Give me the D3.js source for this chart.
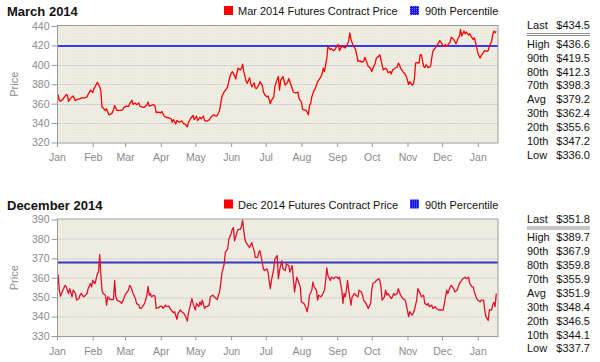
<html>
  <head>
    <meta charset="utf-8" />
    <title>Futures Contract Prices</title>
    <script src="https://d3js.org/d3.v7.min.js"></script>
    <style>
      body {
        margin: 0;
        background: #fff;
      }
      text {
        font-family: "Liberation Sans", Arial, sans-serif;
      }
    </style>
  </head>
  <body>
    <svg id="chart"></svg>
    <script>

      // Mar 2014 futures contract
      var marDates = [
        "2013-01-02","2013-01-03","2013-01-04","2013-01-06","2013-01-09","2013-01-10","2013-01-11","2013-01-13","2013-01-15","2013-01-17","2013-01-19","2013-01-21","2013-01-22","2013-01-25","2013-01-27","2013-01-28","2013-01-30",
        "2013-02-01","2013-02-02","2013-02-03","2013-02-05","2013-02-07","2013-02-08","2013-02-09","2013-02-10","2013-02-12","2013-02-13","2013-02-14","2013-02-15","2013-02-17","2013-02-18","2013-02-19","2013-02-20","2013-02-22","2013-02-25","2013-02-27","2013-02-28",
        "2013-03-02","2013-03-04","2013-03-05","2013-03-07","2013-03-08","2013-03-10","2013-03-11","2013-03-13","2013-03-14","2013-03-17","2013-03-18","2013-03-20","2013-03-21","2013-03-22","2013-03-24","2013-03-26","2013-03-27","2013-03-28","2013-03-30",
        "2013-04-01","2013-04-02","2013-04-04","2013-04-06","2013-04-07","2013-04-08","2013-04-10","2013-04-11","2013-04-12","2013-04-14","2013-04-15","2013-04-17","2013-04-19","2013-04-21","2013-04-22","2013-04-24","2013-04-25","2013-04-27","2013-04-29","2013-04-30",
        "2013-05-02","2013-05-03","2013-05-05","2013-05-06","2013-05-08","2013-05-09","2013-05-11","2013-05-13","2013-05-15","2013-05-17","2013-05-19","2013-05-20","2013-05-22","2013-05-23","2013-05-24","2013-05-26","2013-05-28","2013-05-29","2013-05-30","2013-05-31",
        "2013-06-01","2013-06-02","2013-06-04","2013-06-05","2013-06-06","2013-06-07","2013-06-09","2013-06-10","2013-06-11","2013-06-12","2013-06-14","2013-06-15","2013-06-17","2013-06-18","2013-06-19","2013-06-21","2013-06-22","2013-06-23","2013-06-25","2013-06-26","2013-06-28","2013-06-29","2013-06-30",
        "2013-07-02","2013-07-03","2013-07-05","2013-07-06","2013-07-08","2013-07-09","2013-07-11","2013-07-12","2013-07-13","2013-07-14","2013-07-16","2013-07-18","2013-07-20","2013-07-21","2013-07-23","2013-07-25","2013-07-27","2013-07-29","2013-07-30",
        "2013-08-01","2013-08-02","2013-08-05","2013-08-06","2013-08-07","2013-08-08","2013-08-09","2013-08-10","2013-08-12","2013-08-13","2013-08-15","2013-08-16","2013-08-18","2013-08-19","2013-08-20","2013-08-21","2013-08-23","2013-08-24","2013-08-26","2013-08-27","2013-08-29","2013-08-30",
        "2013-09-01","2013-09-02","2013-09-03","2013-09-05","2013-09-06","2013-09-08","2013-09-09","2013-09-11","2013-09-12","2013-09-13","2013-09-14","2013-09-15","2013-09-17","2013-09-18","2013-09-19","2013-09-21","2013-09-22","2013-09-24","2013-09-25","2013-09-27","2013-09-28","2013-09-30",
        "2013-10-01","2013-10-02","2013-10-04","2013-10-05","2013-10-07","2013-10-08","2013-10-10","2013-10-11","2013-10-13","2013-10-14","2013-10-15","2013-10-17","2013-10-18","2013-10-19","2013-10-20","2013-10-21","2013-10-23","2013-10-24","2013-10-25","2013-10-26","2013-10-28","2013-10-30","2013-10-31",
        "2013-11-02","2013-11-03","2013-11-04","2013-11-05","2013-11-06","2013-11-07","2013-11-08","2013-11-09","2013-11-11","2013-11-12","2013-11-13","2013-11-15","2013-11-16","2013-11-17","2013-11-18","2013-11-19","2013-11-21","2013-11-22","2013-11-23","2013-11-24","2013-11-25","2013-11-27","2013-11-28","2013-11-29",
        "2013-12-01","2013-12-02","2013-12-04","2013-12-05","2013-12-06","2013-12-08","2013-12-09","2013-12-11","2013-12-12","2013-12-13","2013-12-14","2013-12-15","2013-12-16","2013-12-17","2013-12-18","2013-12-20","2013-12-21","2013-12-22","2013-12-24","2013-12-25","2013-12-27","2013-12-28","2013-12-29","2013-12-31",
        "2014-01-01","2014-01-03","2014-01-04","2014-01-06","2014-01-07","2014-01-09","2014-01-10","2014-01-11","2014-01-13","2014-01-14","2014-01-15","2014-01-16","2014-01-17"
      ];
      var marPrices = [
        369.4,363.5,362.4,364.5,369.4,368.7,362.4,365.9,368.0,363.1,364.5,365.2,365.9,365.9,367.0,369.4,373.9,
        371.5,375.6,377.4,381.9,377.4,373.9,356.5,355.5,353.0,354.8,351.3,348.5,349.5,350.6,354.0,358.2,353.0,353.0,353.7,356.2,
        357.5,357.2,360.0,363.5,359.3,360.7,358.9,360.7,357.2,356.2,356.5,358.9,361.7,357.5,358.2,358.9,357.5,350.9,351.3,
        350.6,352.0,347.1,345.7,346.0,345.4,344.3,340.8,343.6,339.1,342.6,340.8,342.2,339.1,339.1,336.0,340.8,345.0,347.8,343.6,
        347.1,342.6,346.0,344.3,347.1,342.6,341.9,343.3,346.8,348.5,347.1,347.8,353.0,360.0,367.0,372.2,375.6,377.4,382.6,387.8,
        391.3,393.0,388.9,385.4,391.3,396.5,394.8,396.5,400.7,393.0,383.3,380.9,386.8,380.9,377.4,381.6,376.3,375.6,379.1,382.6,379.1,372.2,369.4,
        367.0,368.0,360.0,363.5,367.0,378.0,385.0,388.0,374.0,384.0,388.0,379.0,382.0,386.0,379.0,372.0,371.0,372.0,365.0,
        361.7,354.0,353.0,351.3,348.5,358.0,360.0,367.0,374.0,375.6,382.6,384.3,387.8,391.3,396.5,393.0,407.0,419.0,415.6,416.7,414.6,415.6,
        420.0,420.7,414.6,419.0,418.7,417.3,419.0,424.4,433.0,426.0,422.6,420.0,415.6,410.4,403.5,404.2,402.8,403.5,407.7,401.7,398.3,396.5,
        393.0,396.5,401.7,407.0,408.7,410.4,400.0,394.8,396.5,395.5,392.0,393.0,390.5,394.8,395.5,396.5,397.6,401.7,400.0,396.5,393.0,390.3,387.8,
        379.8,382.6,380.9,379.1,379.8,385.8,401.7,402.4,401.7,410.4,410.4,398.3,397.2,400.0,398.9,397.2,398.3,407.0,413.9,415.6,417.3,420.9,422.6,425.0,
        421.6,419.1,420.9,419.1,420.2,423.6,428.5,426.1,424.4,421.6,424.4,427.8,429.6,436.6,429.6,434.8,432.0,433.8,430.6,432.0,427.8,426.1,427.8,418.1,
        412.2,407.0,409.8,413.2,414.6,413.9,414.6,419.1,424.4,431.3,434.8,433.1,434.5
      ];

      // Dec 2014 futures contract
      var decDates = [
        "2013-01-02","2013-01-03","2013-01-04","2013-01-05","2013-01-06","2013-01-08","2013-01-09","2013-01-11","2013-01-12","2013-01-14","2013-01-15","2013-01-17","2013-01-18","2013-01-20","2013-01-21","2013-01-22","2013-01-24","2013-01-25","2013-01-27","2013-01-28","2013-01-30","2013-01-31",
        "2013-02-01","2013-02-03","2013-02-04","2013-02-05","2013-02-06","2013-02-07","2013-02-08","2013-02-09","2013-02-10","2013-02-12","2013-02-13","2013-02-14","2013-02-16","2013-02-19","2013-02-20","2013-02-21","2013-02-22","2013-02-25","2013-02-26","2013-02-28",
        "2013-03-01","2013-03-02","2013-03-04","2013-03-05","2013-03-06","2013-03-07","2013-03-08","2013-03-10","2013-03-11","2013-03-13","2013-03-14","2013-03-15","2013-03-17","2013-03-18","2013-03-20","2013-03-21","2013-03-22","2013-03-23","2013-03-24","2013-03-26","2013-03-27","2013-03-28","2013-03-30","2013-03-31",
        "2013-04-02","2013-04-03","2013-04-05","2013-04-06","2013-04-08","2013-04-09","2013-04-10","2013-04-12","2013-04-13","2013-04-15","2013-04-16","2013-04-18","2013-04-19","2013-04-21","2013-04-22","2013-04-24","2013-04-25","2013-04-26","2013-04-27","2013-04-28","2013-04-29","2013-04-30",
        "2013-05-01","2013-05-02","2013-05-04","2013-05-05","2013-05-06","2013-05-07","2013-05-09","2013-05-10","2013-05-11","2013-05-13","2013-05-14","2013-05-16","2013-05-17","2013-05-19","2013-05-20","2013-05-21","2013-05-22","2013-05-23","2013-05-24","2013-05-26","2013-05-27","2013-05-29","2013-05-30",
        "2013-06-01","2013-06-02","2013-06-03","2013-06-04","2013-06-06","2013-06-07","2013-06-09","2013-06-10","2013-06-11","2013-06-12","2013-06-13","2013-06-14","2013-06-16","2013-06-17","2013-06-19","2013-06-20","2013-06-21","2013-06-22","2013-06-24","2013-06-25","2013-06-26","2013-06-28","2013-06-29","2013-06-30",
        "2013-07-02","2013-07-03","2013-07-05","2013-07-06","2013-07-08","2013-07-09","2013-07-11","2013-07-12","2013-07-13","2013-07-15","2013-07-16","2013-07-18","2013-07-19","2013-07-21","2013-07-22","2013-07-24","2013-07-25","2013-07-26","2013-07-28","2013-07-29","2013-07-31",
        "2013-08-01","2013-08-03","2013-08-04","2013-08-06","2013-08-07","2013-08-08","2013-08-10","2013-08-11","2013-08-12","2013-08-14","2013-08-15","2013-08-16","2013-08-18","2013-08-19","2013-08-21","2013-08-22","2013-08-23","2013-08-24","2013-08-26","2013-08-27","2013-08-29","2013-08-30",
        "2013-09-01","2013-09-02","2013-09-03","2013-09-05","2013-09-06","2013-09-07","2013-09-08","2013-09-09","2013-09-10","2013-09-11","2013-09-13","2013-09-14","2013-09-16","2013-09-17","2013-09-19","2013-09-20","2013-09-22","2013-09-23","2013-09-24","2013-09-26","2013-09-28","2013-09-30",
        "2013-10-01","2013-10-02","2013-10-04","2013-10-05","2013-10-07","2013-10-08","2013-10-09","2013-10-10","2013-10-12","2013-10-13","2013-10-14","2013-10-15","2013-10-17","2013-10-18","2013-10-19","2013-10-20","2013-10-21","2013-10-23","2013-10-24","2013-10-26","2013-10-27","2013-10-28","2013-10-30","2013-10-31",
        "2013-11-02","2013-11-03","2013-11-05","2013-11-06","2013-11-07","2013-11-09","2013-11-10","2013-11-12","2013-11-13","2013-11-15","2013-11-16","2013-11-18","2013-11-19","2013-11-20","2013-11-22","2013-11-23","2013-11-25","2013-11-26","2013-11-28","2013-11-29","2013-11-30",
        "2013-12-02","2013-12-03","2013-12-05","2013-12-06","2013-12-08","2013-12-09","2013-12-11","2013-12-12","2013-12-14","2013-12-15","2013-12-16","2013-12-18","2013-12-19","2013-12-21","2013-12-22","2013-12-24","2013-12-25","2013-12-27","2013-12-28","2013-12-29","2013-12-31",
        "2014-01-01","2014-01-03","2014-01-04","2014-01-06","2014-01-07","2014-01-08","2014-01-10","2014-01-11","2014-01-13","2014-01-14","2014-01-15","2014-01-16","2014-01-17"
      ];
      var decPrices = [
        361.7,353.6,350.5,351.9,353.6,356.1,355.3,351.9,354.4,350.2,353.6,351.9,348.5,349.3,351.0,351.9,350.2,350.5,351.9,354.4,357.0,355.3,
        358.6,357.0,359.5,362.0,362.9,371.9,362.0,353.6,351.9,351.0,345.9,350.2,348.8,348.8,358.6,350.2,348.5,347.6,346.8,349.3,
        351.0,351.9,353.6,356.1,355.3,353.6,351.9,349.3,346.8,345.9,344.2,344.2,345.9,346.8,351.0,355.6,351.0,351.9,350.2,351.0,350.5,344.2,344.6,345.1,
        345.4,344.2,345.9,345.1,345.4,344.2,343.4,342.0,342.5,338.6,341.7,343.4,342.5,341.7,340.8,337.7,341.7,344.2,346.8,349.3,346.8,345.1,
        343.4,346.8,345.1,347.6,345.9,348.5,344.2,345.1,345.1,345.9,350.2,351.0,350.5,349.3,348.8,351.0,352.7,357.0,362.0,367.1,373.1,374.7,379.8,
        382.7,384.9,385.8,379.0,383.2,384.9,384.9,386.6,389.7,384.1,379.8,378.1,376.4,375.6,378.1,375.6,373.9,370.5,370.5,373.1,373.9,368.0,364.6,363.7,
        364.6,362.9,354.4,358.6,364.6,369.7,371.4,359.5,363.7,368.8,364.6,363.7,367.1,366.3,362.9,366.3,359.5,352.7,360.3,358.6,355.3,
        347.6,346.8,345.9,342.5,345.9,351.0,353.6,357.8,355.3,353.6,348.5,351.0,350.2,351.0,353.6,358.6,365.1,361.2,358.6,360.3,359.5,360.3,
        360.3,359.5,360.3,353.6,346.8,351.9,350.2,353.6,358.6,353.6,345.9,350.2,351.9,351.0,350.2,353.6,352.7,351.0,348.5,346.8,344.2,346.8,
        353.6,357.0,357.8,358.6,359.5,358.6,355.3,348.5,350.2,353.6,351.0,351.9,350.2,349.3,350.2,351.9,351.0,351.9,354.4,351.0,350.2,349.3,348.5,345.9,
        340.0,342.5,340.8,341.7,343.4,348.5,354.4,351.9,350.2,351.0,346.8,345.9,346.8,345.1,345.9,344.2,345.1,344.2,343.4,343.4,343.4,
        343.4,346.8,353.6,351.9,355.3,356.1,354.4,352.7,353.6,355.3,357.0,358.6,359.5,360.3,359.5,360.3,357.0,355.3,355.3,352.7,349.3,
        348.5,347.6,348.5,348.5,343.4,340.0,338.0,343.4,343.4,346.3,347.4,345.1,351.8
      ];

      var statLabels = ["Last", "High", "90th", "80th", "70th", "Avg", "30th", "20th", "10th", "Low"];
      var marStats = [434.5, 436.6, 419.5, 412.3, 398.3, 379.2, 362.4, 355.6, 347.2, 336.0];
      var decStats = [351.8, 389.7, 367.9, 359.8, 355.9, 351.9, 348.4, 346.5, 344.1, 337.7];

      var marTicks = [320, 340, 360, 380, 400, 420, 440];
      var decTicks = [330, 340, 350, 360, 370, 380, 390];

      var width = 600;
      var height = 362;
      var plotLeft = 57;
      var plotRight = 498;
      var parseDate = d3.timeParse("%Y-%m-%d");
      var xDomain = [new Date(2013, 0, 1), new Date(2014, 0, 18, 12)];

      var svg = d3.select("#chart")
        .attr("width", width)
        .attr("height", height);

      var defs = svg.append("defs");

      // faint dotted paper behind the plot
      var paper = defs.append("pattern")
        .attr("id", "paper")
        .attr("width", 3)
        .attr("height", 3)
        .attr("patternUnits", "userSpaceOnUse");
      paper.append("rect").attr("width", 3).attr("height", 3).attr("fill", "#eeede1");
      paper.append("rect").attr("width", 1).attr("height", 1).attr("fill", "#e6e5d7");

      // dithered blue swatch of the legend
      var dither = defs.append("pattern")
        .attr("id", "dither")
        .attr("width", 2)
        .attr("height", 2)
        .attr("patternUnits", "userSpaceOnUse");
      dither.append("rect").attr("width", 2).attr("height", 2).attr("fill", "#1010ee");
      dither.append("rect").attr("width", 1).attr("height", 1).attr("fill", "#7878ff");

      function drawPanel(p) {

        var g = svg.append("g")
          .attr("transform", "translate(0, " + p.offset + ")");

        var top = 26;
        var bottom = 142.5;

        var x = d3.scaleTime()
          .domain(xDomain)
          .range([plotLeft, plotRight]);

        var y = d3.scaleLinear()
          .domain([p.ticks[0], p.ticks[p.ticks.length - 1]])
          .range([bottom, top]);

        var data = p.dates.map(function(d, i) {
          return { date: parseDate(d), price: p.prices[i] };
        });

        g.append("rect")
          .attr("x", plotLeft)
          .attr("y", top)
          .attr("width", plotRight - plotLeft)
          .attr("height", bottom - top)
          .attr("fill", "url(#paper)");

        // gridlines
        g.append("g").selectAll("line")
          .data(p.ticks.slice(1, -1))
          .enter()
            .append("line")
            .attr("x1", plotLeft)
            .attr("x2", plotRight)
            .attr("y1", function(d) { return Math.round(y(d)) + 0.5; })
            .attr("y2", function(d) { return Math.round(y(d)) + 0.5; })
            .attr("stroke", "#d3d3d3");

        // 90th percentile
        g.append("line")
          .attr("x1", plotLeft)
          .attr("x2", plotRight)
          .attr("y1", y(p.stats[2]))
          .attr("y2", y(p.stats[2]))
          .attr("stroke", p.pctColor)
          .attr("stroke-width", p.pctWidth);

        var line = d3.line()
          .x(function(d) { return x(d.date); })
          .y(function(d) { return y(d.price); });

        g.append("path")
          .datum(data)
          .attr("fill", "none")
          .attr("stroke", p.lineColor)
          .attr("stroke-width", 1.3)
          .attr("stroke-linejoin", "round")
          .attr("d", line);

        g.append("rect")
          .attr("x", plotLeft + 0.5)
          .attr("y", top - 0.5)
          .attr("width", plotRight - plotLeft - 0.5)
          .attr("height", bottom - top + 1)
          .attr("fill", "none")
          .attr("stroke", "#9a9a9a");

        var yAxis = d3.axisLeft(y)
          .tickValues(p.ticks)
          .tickSize(6)
          .tickPadding(2);

        var ya = g.append("g")
          .attr("transform", "translate(" + (plotLeft + 0.5) + ", 0)")
          .call(yAxis);
        ya.select(".domain").remove();
        ya.selectAll("line").attr("stroke", "#999");
        ya.selectAll("text")
          .attr("fill", "#8a8a8a")
          .attr("font-size", 10.5)
          .attr("font-family", "'Liberation Sans', Arial, sans-serif");

        var xAxis = d3.axisBottom(x)
          .ticks(d3.timeMonth.every(1))
          .tickFormat(d3.timeFormat("%b"))
          .tickSize(4)
          .tickPadding(7);

        var xa = g.append("g")
          .attr("transform", "translate(0, " + (bottom + 0.5) + ")")
          .call(xAxis);
        xa.select(".domain").remove();
        xa.selectAll("line").attr("stroke", "#999");
        xa.selectAll("text")
          .attr("fill", "#8a8a8a")
          .attr("font-size", 10.5)
          .attr("font-family", "'Liberation Sans', Arial, sans-serif");

        g.append("text")
          .attr("transform", "translate(18, " + ((top + bottom) / 2) + ") rotate(-90)")
          .attr("text-anchor", "middle")
          .attr("font-size", 11)
          .attr("fill", "#8a8a8a")
          .text("Price");

        // title
        g.append("text")
          .attr("x", 7)
          .attr("y", 16)
          .attr("font-size", 13)
          .attr("font-weight", "bold")
          .attr("fill", "#111")
          .text(p.title);

        // legend
        var legend = g.append("g");
        legend.append("rect")
          .attr("x", 224).attr("y", 6)
          .attr("width", 9).attr("height", 9)
          .attr("fill", "#ff0000");
        legend.append("text")
          .attr("x", 238).attr("y", 15)
          .attr("font-size", 11)
          .attr("fill", "#111")
          .text(p.seriesName);
        legend.append("rect")
          .attr("x", 410).attr("y", 6)
          .attr("width", 9).attr("height", 9)
          .attr("fill", "url(#dither)");
        legend.append("text")
          .attr("x", 425).attr("y", 15)
          .attr("font-size", 11)
          .attr("fill", "#111")
          .text("90th Percentile");

        // stats table
        var table = g.append("g");
        var rowY = function(i) { return i === 0 ? 29.3 : 47.7 + (i - 1) * 13.9; };

        table.selectAll(".label")
          .data(statLabels)
          .enter()
            .append("text")
            .attr("class", "label")
            .attr("x", 527)
            .attr("y", function(d, i) { return rowY(i); })
            .attr("font-size", 11)
            .attr("fill", "#111")
            .text(function(d) { return d; });

        table.selectAll(".value")
          .data(p.stats)
          .enter()
            .append("text")
            .attr("class", "value")
            .attr("x", 590)
            .attr("y", function(d, i) { return rowY(i); })
            .attr("text-anchor", "end")
            .attr("font-size", 11)
            .attr("fill", "#111")
            .text(function(d) { return "$" + d.toFixed(1); });

        [33.5, 35.5].forEach(function(ly) {
          table.append("line")
            .attr("x1", 527).attr("x2", 590)
            .attr("y1", ly).attr("y2", ly)
            .attr("stroke", "#8c8c8c");
        });
      }

      drawPanel({
        offset: 0,
        title: "March 2014",
        seriesName: "Mar 2014 Futures Contract Price",
        dates: marDates,
        prices: marPrices,
        ticks: marTicks,
        stats: marStats,
        lineColor: "#ff0000",
        pctColor: "#0000ff",
        pctWidth: 1.5
      });

      drawPanel({
        offset: 193.5,
        title: "December 2014",
        seriesName: "Dec 2014 Futures Contract Price",
        dates: decDates,
        prices: decPrices,
        ticks: decTicks,
        stats: decStats,
        lineColor: "#e3102a",
        pctColor: "#3434c0",
        pctWidth: 2
      });

    </script>
  </body>
</html>
